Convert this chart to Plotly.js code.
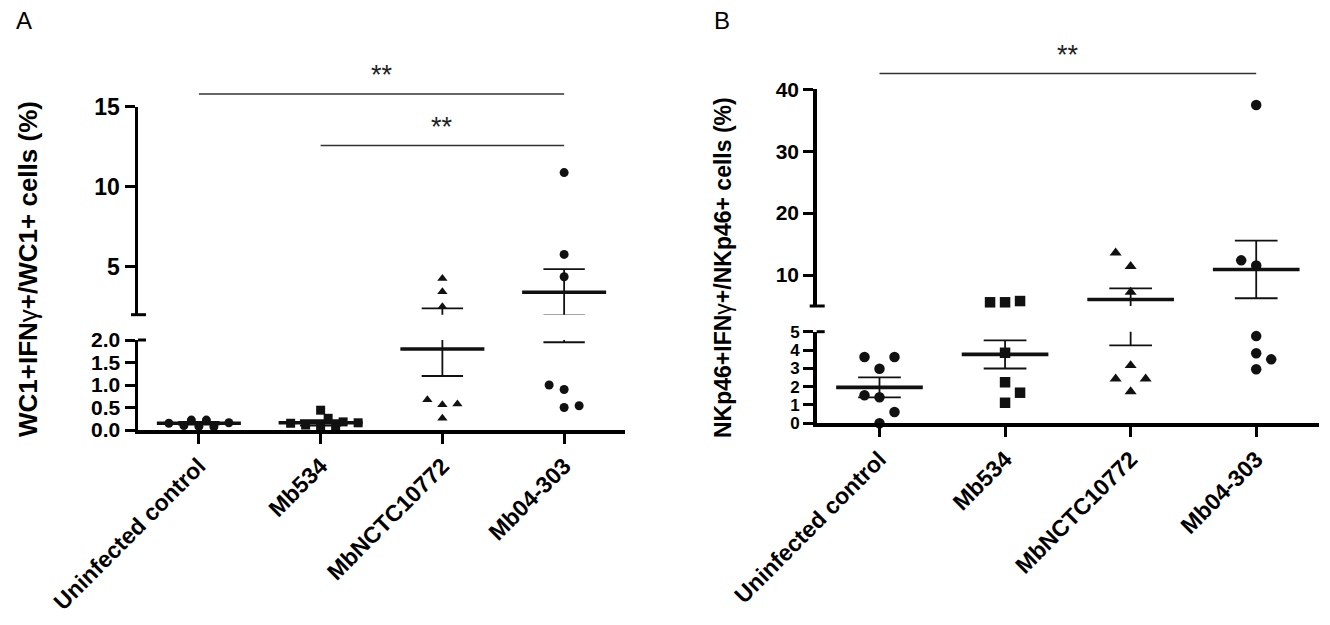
<!DOCTYPE html>
<html>
<head>
<meta charset="utf-8">
<script src="https://cdn.plot.ly/plotly-3.0.1.min.js"></script>
<style>
  html, body { margin: 0; padding: 0; background: #fff; }
</style>
</head>
<body>
<div id="chart" style="width:1330px;height:625px"></div>
<script>
// groups on the x axis
const groups = ["Uninfected control", "Mb534", "MbNCTC10772", "Mb04-303"];
const symbols = ["circle", "square", "triangle-up", "circle"];

// panel A: WC1+IFNγ+/WC1+ cells (%)
const wc1Uninfected = [0.08, 0.22, 0.22, 0.07, 0.10, 0.16, 0.15];
const wc1Mb534 = [0.04, 0.44, 0.26, 0.11, 0.04, 0.15, 0.18, 0.16];
const wc1Nctc = [0.26, 0.56, 0.58, 0.67, 2.5, 3.44, 4.27];
const wc1Mb04 = [0.5, 0.54, 0.9, 1.0, 4.37, 5.77, 10.88];
const wc1Mean = [0.15, 0.16, 1.80, 3.40];
const wc1Sem = [0.03, 0.06, 0.60, 1.45];

// panel B: NKp46+IFNγ+/NKp46+ cells (%)
const nkUninfected = [0, 0.62, 1.42, 1.53, 2.98, 3.62, 3.62];
const nkMb534 = [1.12, 1.67, 2.24, 3.85, 5.6, 5.6, 5.8];
const nkNctc = [1.73, 2.43, 11.4, 13.6, 2.43, 3.16, 7.26];
const nkMb04 = [2.95, 3.49, 3.82, 4.76, 11.56, 12.37, 37.47];
const nkMean = [1.96, 3.76, 6.05, 10.9];
const nkSem = [0.55, 0.77, 1.80, 4.65];

// significance bars: [from group, to group, label]
const wc1Sig = [[0, 3, "**"], [1, 3, "**"]];
const nkSig = [[0, 3, "**"]];

const W = 1330, H = 625;
const FONT = "Liberation Sans, Arial, sans-serif";

const panels = [
    {
        letter: "A", values: [wc1Uninfected, wc1Mb534, wc1Nctc, wc1Mb04],
        mean: wc1Mean, sem: wc1Sem, sig: wc1Sig, sigPx: [94, 145.5],
        title: "<b>WC1+IFN</b>γ<b>+/WC1+ cells (%)</b>", titlePx: [28, 269], titleSize: 26,
        letterPx: [24, 21],
        x: "x", lower: "y", upper: "y2",
        xPx: [138, 625], lowerPx: [430, 340], upperPx: [314.7, 106.7],
        lowerRange: [0, 2], upperRange: [2, 15],
        lowerTicks: [0, 0.5, 1, 1.5, 2], upperTicks: [5, 10, 15], lowerFormat: ".1f",
        lowerFont: 21, upperFont: 23,
        markerSize: 9, step: 7.5, minDist: 9
    },
    {
        letter: "B", values: [nkUninfected, nkMb534, nkNctc, nkMb04],
        mean: nkMean, sem: nkSem, sig: nkSig, sigPx: [73.5],
        title: "<b>NKp46+IFN</b>γ<b>+/NKp46+ cells (%)</b>", titlePx: [723, 268], titleSize: 23,
        letterPx: [722, 21],
        x: "x2", lower: "y3", upper: "y4",
        xPx: [816.7, 1319], lowerPx: [423.3, 331.7], upperPx: [306, 89.3],
        lowerRange: [0, 5], upperRange: [5, 40],
        lowerTicks: [0, 1, 2, 3, 4, 5], upperTicks: [10, 20, 30, 40], lowerFormat: "d",
        lowerFont: 17, upperFont: 21,
        markerSize: 10.5, step: 15, minDist: 14
    }
];

function valueToPx(p, v) {
    const up = v >= p.upperRange[0];
    const r = up ? p.upperRange : p.lowerRange;
    const px = up ? p.upperPx : p.lowerPx;
    return px[0] + (v - r[0]) / (r[1] - r[0]) * (px[1] - px[0]);
}

// column scatter spreading: put each point in the centre unless it would
// overlap one already drawn, then step sideways, alternating sides
function spreadOffsets(p, values) {
    const placed = [];
    let dir = 1;
    return values.map(v => {
        const y = valueToPx(p, v);
        let off = 0;
        for (let k = 0; k < 40; k++) {
            const cand = k === 0 ? 0 : (k % 2 ? dir : -dir) * Math.ceil(k / 2) * p.step;
            if (placed.every(q => Math.hypot(q.x - cand, q.y - y) >= p.minDist)) {
                off = cand;
                break;
            }
        }
        if (off !== 0) dir = -dir;
        placed.push({x: off, y: y});
        return off;
    });
}

const axisFont = (size) => ({family: FONT, size: size, color: "#000", weight: "bold"});
const traces = [];
const shapes = [];
const annotations = [];
const layout = {
    width: W, height: H,
    margin: {l: 0, r: 0, t: 0, b: 0},
    paper_bgcolor: "#fff", plot_bgcolor: "rgba(0,0,0,0)",
    showlegend: false,
    shapes: shapes, annotations: annotations
};

panels.forEach(p => {
    const xDom = [p.xPx[0] / W, p.xPx[1] / W];
    const xw = p.xPx[1] - p.xPx[0];
    const pxPerCat = xw / 4;
    const axName = (id) => id.replace("x", "xaxis").replace("y", "yaxis");

    layout[axName(p.x)] = {
        domain: xDom, range: [-0.5, 3.5], anchor: p.lower,
        tickvals: [0, 1, 2, 3], ticktext: groups, tickangle: -45,
        ticks: "outside", ticklen: 10, tickwidth: 3, tickcolor: "#000",
        showline: true, linewidth: 3.5, linecolor: "#000",
        showgrid: false, zeroline: false, fixedrange: true,
        tickfont: axisFont(23)
    };

    const segs = [
        {axis: p.lower, range: p.lowerRange, px: p.lowerPx, ticks: p.lowerTicks, fmt: p.lowerFormat, font: p.lowerFont},
        {axis: p.upper, range: p.upperRange, px: p.upperPx, ticks: p.upperTicks, fmt: "d", font: p.upperFont}
    ];
    segs.forEach(s => {
        layout[axName(s.axis)] = {
            domain: [1 - s.px[0] / H, 1 - s.px[1] / H], range: s.range, anchor: p.x,
            tickvals: s.ticks, tickformat: s.fmt,
            ticks: "outside", ticklen: 10, tickwidth: 3, tickcolor: "#000",
            showline: true, linewidth: 3.5, linecolor: "#000",
            showgrid: false, zeroline: false, fixedrange: true,
            tickfont: axisFont(s.font)
        };
    });

    // axis break caps
    shapes.push({type: "line", xref: p.x + " domain", yref: p.upper + " domain",
        x0: -7 / xw, x1: 8 / xw, y0: 0, y1: 0, line: {color: "#000", width: 3}});
    shapes.push({type: "line", xref: p.x + " domain", yref: p.lower + " domain",
        x0: 0, x1: 8 / xw, y0: 1, y1: 1, line: {color: "#000", width: 3}});

    // points, split between the two axis segments
    const pts = {lower: {x: [], y: [], s: []}, upper: {x: [], y: [], s: []}};
    p.values.forEach((vals, g) => {
        const offs = spreadOffsets(p, vals);
        vals.forEach((v, i) => {
            const bucket = v >= p.upperRange[0] ? pts.upper : pts.lower;
            bucket.x.push(g + offs[i] / pxPerCat);
            bucket.y.push(v);
            bucket.s.push(symbols[g]);
        });
    });

    // mean and SEM lines, drawn on both segments and clipped by each
    const meanX = [], meanY = [], semX = [], semY = [];
    p.mean.forEach((m, g) => {
        const e = p.sem[g];
        meanX.push(g - 0.345, g + 0.345, null);
        meanY.push(m, m, null);
        semX.push(g - 0.17, g + 0.17, null, g - 0.17, g + 0.17, null, g, g, null);
        semY.push(m + e, m + e, null, m - e, m - e, null, m - e, m + e, null);
    });

    [["lower", p.lower], ["upper", p.upper]].forEach(([key, yax]) => {
        traces.push({type: "scatter", mode: "lines", xaxis: p.x, yaxis: yax,
            x: semX, y: semY, line: {color: "#111", width: 1.8}, hoverinfo: "skip"});
        traces.push({type: "scatter", mode: "lines", xaxis: p.x, yaxis: yax,
            x: meanX, y: meanY, line: {color: "#111", width: 3.6}, hoverinfo: "skip"});
        traces.push({type: "scatter", mode: "markers", xaxis: p.x, yaxis: yax,
            x: pts[key].x, y: pts[key].y, cliponaxis: false, hoverinfo: "skip",
            marker: {symbol: pts[key].s, size: p.markerSize, color: "#111"}});
    });

    // significance bars
    p.sig.forEach((sg, i) => {
        const yp = 1 - p.sigPx[i] / H;
        shapes.push({type: "line", xref: p.x, yref: "paper", x0: sg[0], x1: sg[1],
            y0: yp, y1: yp, line: {color: "#333", width: 1.5}});
        annotations.push({xref: p.x, yref: "paper", x: (sg[0] + sg[1]) / 2, y: yp,
            yanchor: "bottom", yshift: 2, text: sg[2], showarrow: false,
            font: {family: FONT, size: 27, color: "#222"}});
    });

    annotations.push({xref: "paper", yref: "paper", x: p.titlePx[0] / W, y: 1 - p.titlePx[1] / H,
        xanchor: "center", yanchor: "middle", textangle: -90, text: p.title, showarrow: false,
        font: {family: FONT, size: p.titleSize, color: "#000"}});
    annotations.push({xref: "paper", yref: "paper", x: p.letterPx[0] / W, y: 1 - p.letterPx[1] / H,
        xanchor: "center", yanchor: "middle", text: p.letter, showarrow: false,
        font: {family: "Liberation Sans Narrow, Liberation Sans, Arial, sans-serif", size: 24, color: "#000"}});
});

Plotly.newPlot("chart", traces, layout, {staticPlot: true});
</script>
</body>
</html>
